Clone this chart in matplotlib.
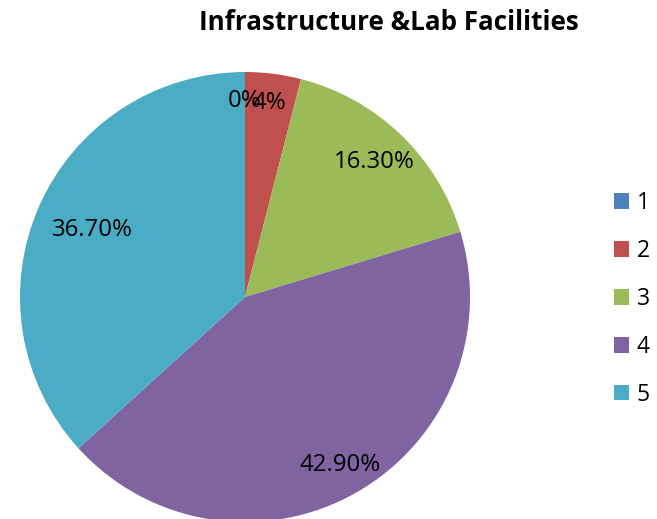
import matplotlib
matplotlib.use("Agg")
import matplotlib.pyplot as plt
import numpy as np

categories = ["1", "2", "3", "4", "5"]
values = [0.0, 4.0, 16.3, 42.9, 36.7]
value_labels = ["0%", "4%", "16.30%", "42.90%", "36.70%"]
colors = ["#4F81BD", "#C0504D", "#9BBB59", "#8064A2", "#4BACC6"]
label_dist = [0.87, 0.87, 0.83, 0.86, 0.74]

plt.rcParams['font.family'] = ['Open Sans', 'DejaVu Sans']

fig = plt.figure(figsize=(6.57, 5.19), dpi=100)
W, H = 657, 519
cx, cy, r = 245, 297, 225
ax = fig.add_axes([(cx - r) / W, (H - cy - r) / H, 2 * r / W, 2 * r / H])
wedges, _ = ax.pie(values, colors=colors, startangle=90, counterclock=False,
                   radius=1.0, wedgeprops=dict(linewidth=0))
ax.set_xlim(-1, 1)
ax.set_ylim(-1, 1)
ax.set_aspect('equal')
ax.axis('off')

for w, lab, d in zip(wedges, value_labels, label_dist):
    ang = np.deg2rad((w.theta1 + w.theta2) / 2)
    ax.text(d * np.cos(ang), d * np.sin(ang), lab, ha='center', va='center',
            fontsize=17.3, color='black')

fig.text(389 / W, 1 - 23 / H, "Infrastructure &Lab Facilities", ha='center', va='center',
         fontsize=18.7, fontweight='bold')

leg = fig.legend(wedges, categories, loc='center left', bbox_to_anchor=(614 / W, 1 - 299 / H),
                 frameon=False, fontsize=16.5, handlelength=0.65, handleheight=0.65,
                 labelspacing=1.045, handletextpad=0.35, borderpad=0, borderaxespad=0)

fig.savefig("out.png", dpi=100)
